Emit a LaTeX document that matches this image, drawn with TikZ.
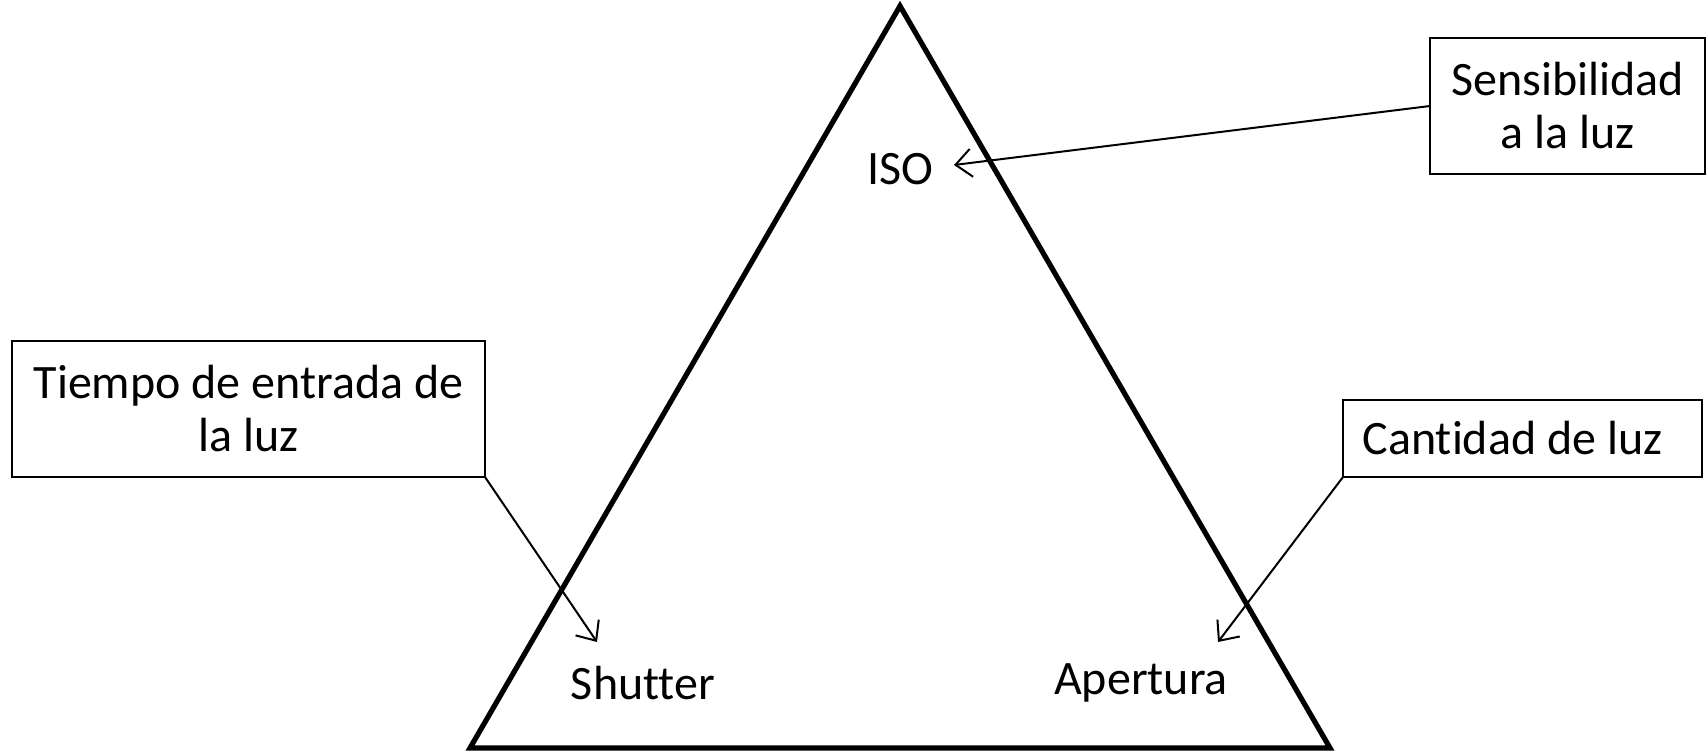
\documentclass[tikz,border=0pt]{standalone}
\usepackage{fontspec}
\setmainfont{Carlito}[Ligatures=NoCommon]
\usetikzlibrary{arrows.meta}
\tikzset{
  tri/.style={line width=2.6pt, line join=miter},
  box/.style={draw, line width=0.7pt, inner sep=0pt, outer sep=0pt, align=center, font=\fontsize{24}{26.5}\selectfont},
  lbl/.style={inner sep=0pt, font=\fontsize{24}{26.5}\selectfont},
  conn/.style={line width=1pt, -{Straight Barb[length=8pt,width=14pt,line width=1pt]}}
}
\begin{document}
\begin{tikzpicture}[x=0.5pt,y=-0.5pt]
\useasboundingbox (0,0) rectangle (1706,753);
% triangle
\coordinate (apex) at (900,6);
\coordinate (bl) at (470,748);
\coordinate (br) at (1330,748);
\draw[tri] (apex) -- (br) -- (bl) -- cycle;
% labels
\node[lbl] (iso) at (900,169) {ISO};
\node[lbl] (shutter) at (643,683) {Shutter};
\node[lbl] (apertura) at (1141,683) {Apertura};
% boxes
\node[box, minimum width=137.5pt, minimum height=68pt] (sens) at (1567.5,106) {Sensibilidad\\a la luz};
\node[box, minimum width=236.5pt, minimum height=68pt] (tiempo) at (248.5,409) {Tiempo de entrada de\\la luz};
\node[box, minimum width=179.5pt, minimum height=38.5pt] (cant) at (1522.5,438.5) {Cantidad de luz\kern10pt};
% arrow tips
\coordinate (isotip) at (954,165);
\coordinate (shuttip) at (597,642);
\coordinate (apertip) at (1218,642);
\draw[conn] (sens.west) -- (isotip);
\draw[conn] (tiempo.south east) -- (shuttip);
\draw[conn] (cant.south west) -- (apertip);
\end{tikzpicture}
\end{document}
